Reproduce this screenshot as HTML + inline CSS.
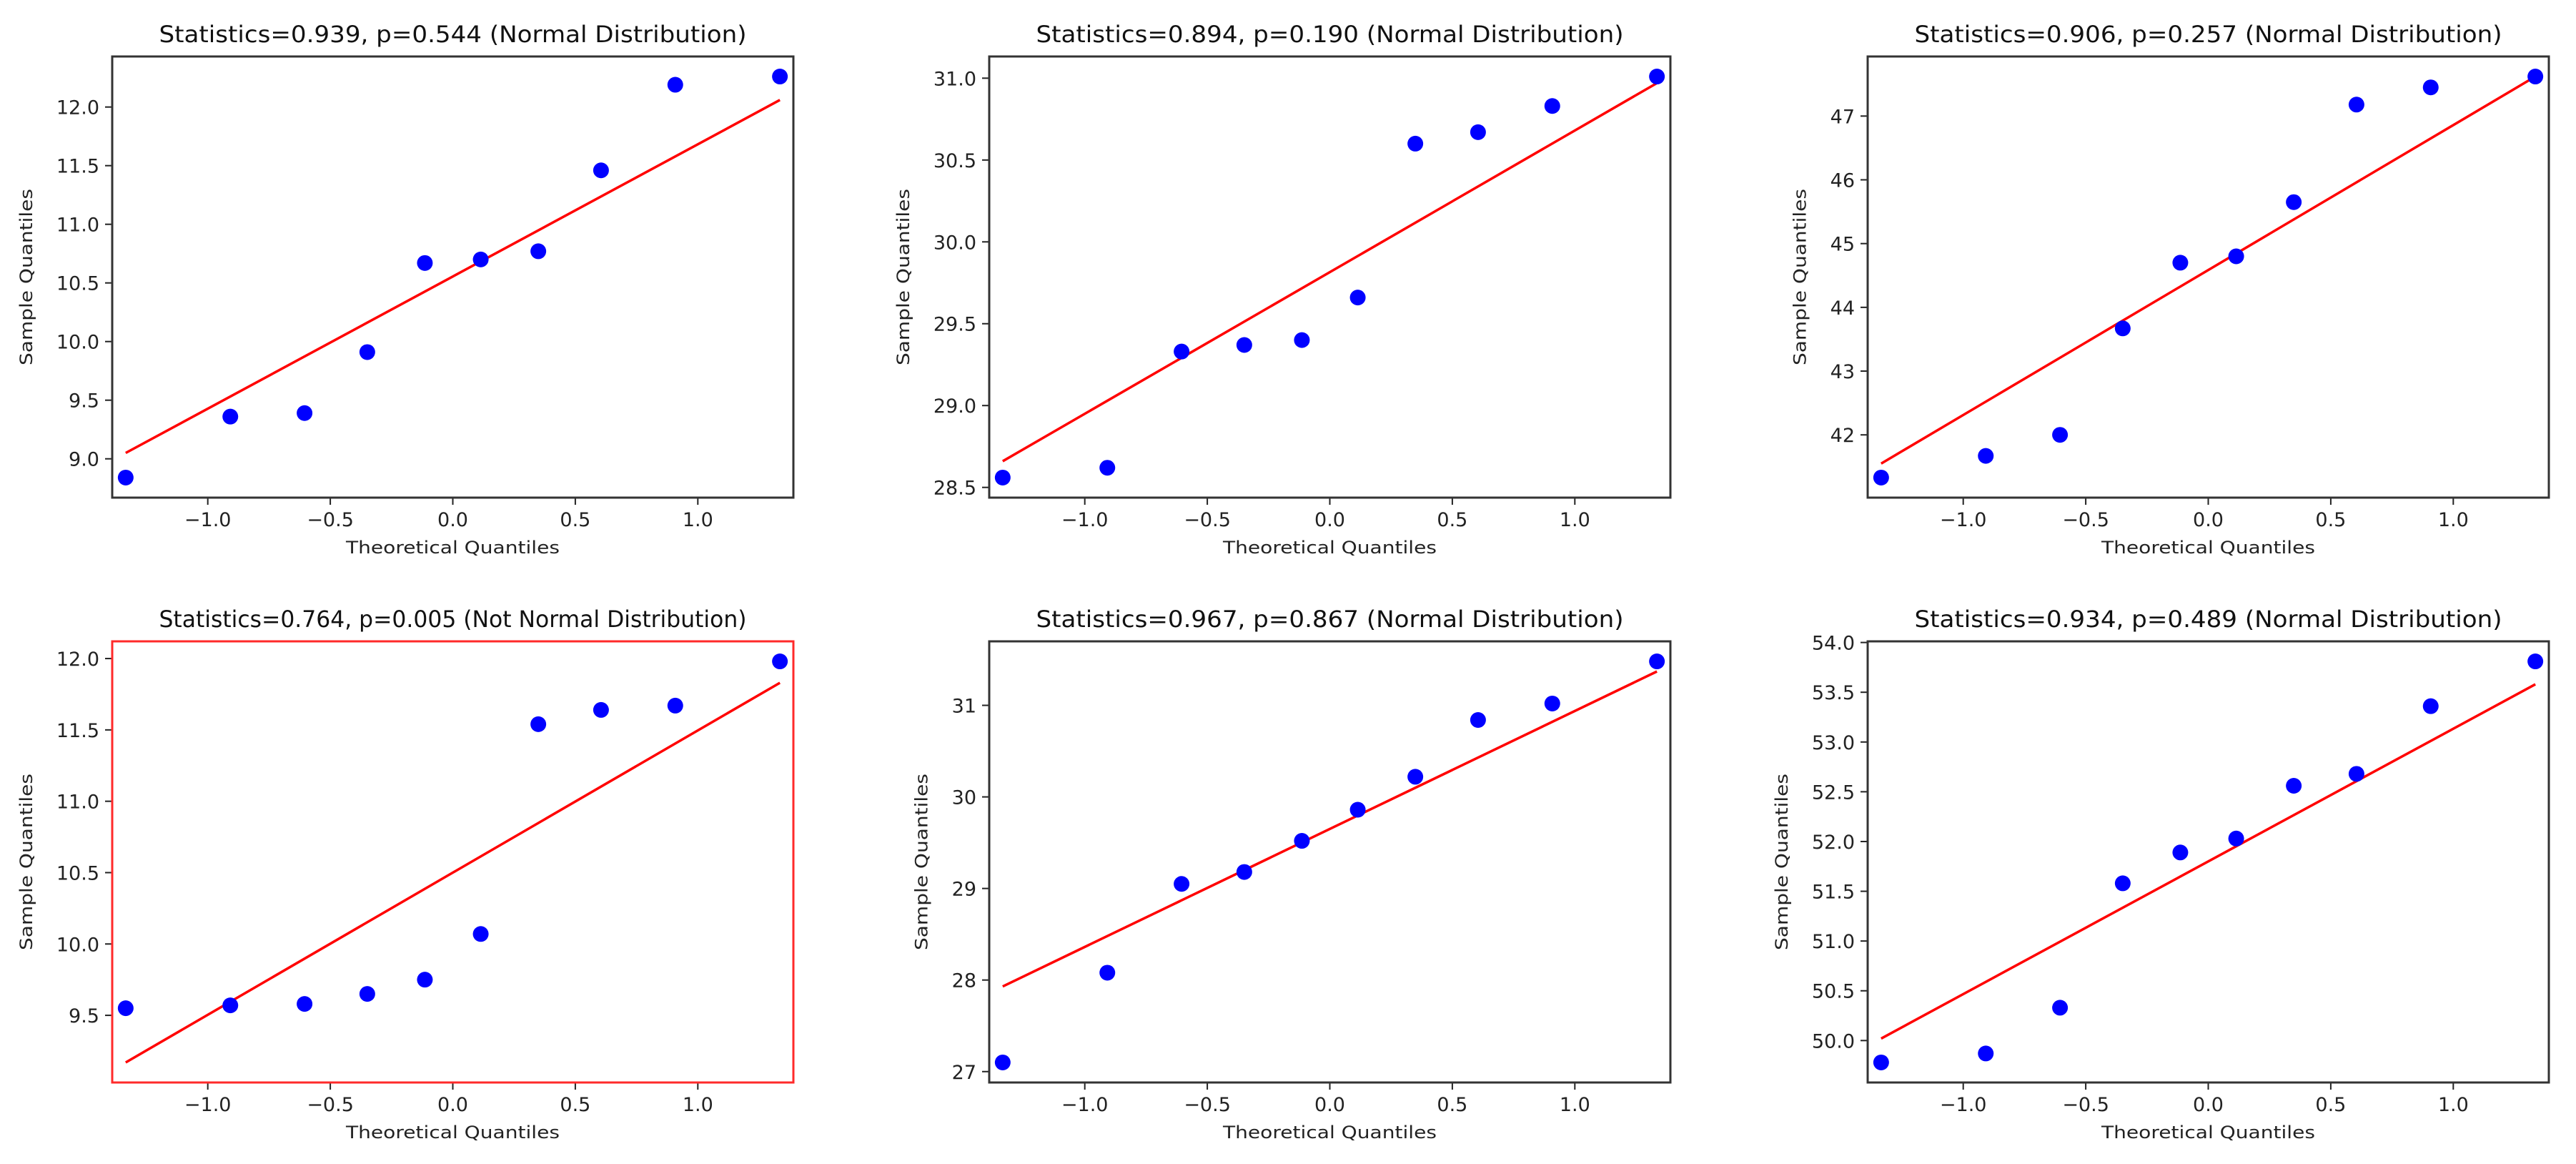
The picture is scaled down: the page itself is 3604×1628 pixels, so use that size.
<!DOCTYPE html>
<html><head><meta charset="utf-8"><style>
html,body{margin:0;padding:0;background:#fff;}
svg{display:block;font-family:"DejaVu Sans","Liberation Sans",sans-serif;}
</style></head><body>
<svg id="fig" width="3604" height="1628" viewBox="0 0 3604 1628" xmlns="http://www.w3.org/2000/svg">
<rect width="3604" height="1628" fill="#fff"/>
</svg>
<script>
const titles = [
 "Statistics=0.939, p=0.544 (Normal Distribution)",
 "Statistics=0.894, p=0.190 (Normal Distribution)",
 "Statistics=0.906, p=0.257 (Normal Distribution)",
 "Statistics=0.764, p=0.005 (Not Normal Distribution)",
 "Statistics=0.967, p=0.867 (Normal Distribution)",
 "Statistics=0.934, p=0.489 (Normal Distribution)"
];
const theoQ = [-1.335,-0.908,-0.605,-0.349,-0.114,0.114,0.349,0.605,0.908,1.335];
const s1 = [8.84,9.36,9.39,9.91,10.67,10.70,10.77,11.46,12.19,12.26];
const s2 = [28.56,28.62,29.33,29.37,29.40,29.66,30.60,30.67,30.83,31.01];
const s3 = [41.33,41.67,42.00,43.67,44.70,44.80,45.65,47.18,47.45,47.62];
const s4 = [9.55,9.57,9.58,9.65,9.75,10.07,11.54,11.64,11.67,11.98];
const s5 = [27.10,28.08,29.05,29.18,29.52,29.86,30.22,30.84,31.02,31.48];
const s6 = [49.78,49.87,50.33,51.58,51.89,52.03,52.56,52.68,53.36,53.81];
const lineStart = [9.05,28.66,41.55,9.17,27.93,50.02];
const lineEnd = [12.06,30.97,47.62,11.83,31.37,53.58];
const xTicks = [-1.0,-0.5,0.0,0.5,1.0];
const xTickLabels = ["\u22121.0","\u22120.5","0.0","0.5","1.0"];
const yTicks1 = [9.0,9.5,10.0,10.5,11.0,11.5,12.0];
const yTicks2 = [28.5,29.0,29.5,30.0,30.5,31.0];
const yTicks3 = [42,43,44,45,46,47];
const yTicks4 = [9.5,10.0,10.5,11.0,11.5,12.0];
const yTicks5 = [27,28,29,30,31];
const yTicks6 = [50.0,50.5,51.0,51.5,52.0,52.5,53.0,53.5,54.0];
const yDec = [1,1,0,1,0,1];

const series = [s1,s2,s3,s4,s5,s6];
const yTickSets = [yTicks1,yTicks2,yTicks3,yTicks4,yTicks5,yTicks6];
const NS = "http://www.w3.org/2000/svg";
const fig = document.getElementById('fig');
const colL = [157,1384,2613], rowT = [79,897], W = 953, H = 617;
const XMIN = -1.39, XMAX = 1.39;
function mk(tag, attrs, parent){const e=document.createElementNS(NS,tag);for(const k in attrs)e.setAttribute(k,attrs[k]);parent.appendChild(e);return e;}

for(let p=0;p<6;p++){
  const L = colL[p%3], T = rowT[Math.floor(p/3)];
  const data = series[p];
  let lo = Math.min(...data, lineStart[p], lineEnd[p]);
  let hi = Math.max(...data, lineStart[p], lineEnd[p]);
  const m = (hi-lo)*0.05; const YMIN = lo-m, YMAX = hi+m;
  const sx = v => L + (v-XMIN)/(XMAX-XMIN)*W;
  const sy = v => T + H - (v-YMIN)/(YMAX-YMIN)*H;
  const g = mk('g',{},fig);
  
  

  const t = mk('text',{x:L+W/2,y:T-20,'text-anchor':'middle','font-size':32,fill:'#111',textLength:822,lengthAdjust:'spacingAndGlyphs'},g);
  t.textContent = titles[p];
  
  

  // x ticks
  xTicks.forEach((v,i)=>{
    const x = sx(v);
    const tk = mk('line',{x1:x,x2:x,y1:T+H,y2:T+H+10,stroke:'#222','stroke-width':2},g);
    
    
    const tl = mk('text',{x:x,y:T+H+40,'text-anchor':'middle','font-size':27,fill:'#222'},g);
    tl.textContent = xTickLabels[i];
    
    
  });
  // y ticks
  let maxW = 0;
  yTickSets[p].forEach(v=>{
    const y = sy(v);
    const tk = mk('line',{x1:L-10,x2:L,y1:y,y2:y,stroke:'#222','stroke-width':2},g);
    
    
    const s = v.toFixed(yDec[p]);
    const w = s.replace('.','').length*17.2 + (s.includes('.')?8.6:0);
    if(w>maxW) maxW=w;
    const tl = mk('text',{x:L-18,y:y+10,'text-anchor':'end','font-size':27,fill:'#222'},g);
    tl.textContent = s;
    
    
  });
  const xl = mk('text',{x:L+W/2,y:T+H+78,'text-anchor':'middle','font-size':24,fill:'#222',textLength:299,lengthAdjust:'spacingAndGlyphs'},g);
  xl.textContent = 'Theoretical Quantiles';
  
  
  const yx = L - maxW - 52;
  const yl = mk('text',{x:yx,y:T+H/2,'text-anchor':'middle','font-size':24,fill:'#222',transform:`rotate(-90 ${yx} ${T+H/2})`,textLength:247,lengthAdjust:'spacingAndGlyphs'},g);
  yl.textContent = 'Sample Quantiles';
  
  

  // fit line
  const ln = mk('line',{x1:sx(theoQ[0]),y1:sy(lineStart[p]),x2:sx(theoQ[theoQ.length-1]),y2:sy(lineEnd[p]),stroke:'#ff0000','stroke-width':3.5},g);
  
  
  // points
  data.forEach((v,i)=>{
    const c = mk('ellipse',{cx:sx(theoQ[i]),cy:sy(v),rx:11,ry:11,fill:'#0000ff'},g);
    
    
  });
  // frame
  const fr = mk('rect',{x:L,y:T,width:W,height:H,fill:'none',stroke:p===3?'#ff2a2a':'#333','stroke-width':3},g);
  
  
}
</script>
</body></html>
